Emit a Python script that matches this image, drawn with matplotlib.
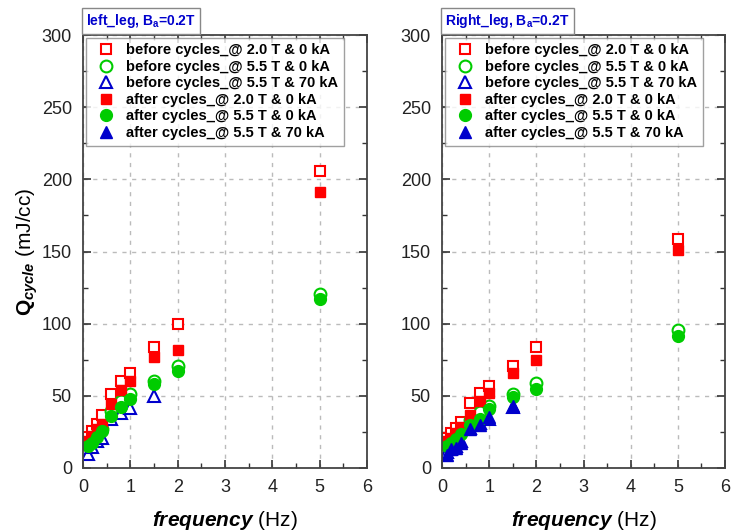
import matplotlib
matplotlib.use("Agg")
import matplotlib.pyplot as plt
from matplotlib.ticker import MultipleLocator

plt.rcParams['font.family'] = ['Liberation Sans', 'DejaVu Sans']
plt.rcParams['mathtext.fontset'] = 'custom'
plt.rcParams['mathtext.rm'] = 'Liberation Sans'
plt.rcParams['mathtext.it'] = 'Liberation Sans:italic'
plt.rcParams['mathtext.bf'] = 'Liberation Sans:bold'
try:
    plt.rcParams['mathtext.bfit'] = 'Liberation Sans:bold:italic'
except KeyError:
    pass

freq = [0.1, 0.2, 0.3, 0.4, 0.6, 0.8, 1.0, 1.5, 2.0, 5.0]
freq_70 = [0.1, 0.2, 0.3, 0.4, 0.6, 0.8, 1.0, 1.5]

labels = ["before cycles_@ 2.0 T & 0 kA", "before cycles_@ 5.5 T & 0 kA",
          "before cycles_@ 5.5 T & 70 kA", "after cycles_@ 2.0 T & 0 kA",
          "after cycles_@ 5.5 T & 0 kA", "after cycles_@ 5.5 T & 70 kA"]

# Left leg
left_b20 = [21.5, 25.7, 30.8, 36.6, 51.6, 60.0, 65.5, 83.5, 100.0, 206.0]
left_b55 = [16.6, 18.7, 23.5, 27.0, 39.6, 46.5, 51.0, 60.0, 71.0, 120.6]
left_b70 = [9.7, 14.8, 18.7, 21.0, 34.0, 38.0, 41.7, 50.0]
left_a20 = [19.0, 22.0, 27.0, 30.5, 44.4, 54.0, 60.0, 76.6, 82.0, 191.0]
left_a55 = [15.0, 17.5, 21.5, 25.5, 36.0, 42.0, 48.0, 58.0, 67.0, 117.0]
left_a70 = []

# Right leg
right_b20 = [21.0, 24.5, 28.0, 32.0, 44.7, 51.8, 57.0, 70.8, 83.6, 159.0]
right_b55 = [16.0, 18.0, 21.5, 25.0, 33.0, 39.0, 43.0, 51.0, 59.0, 95.6]
right_b70 = [11.0, 13.5, 15.5, 19.0, 28.0, 31.0, 34.0, 42.0]
right_a20 = [18.5, 21.0, 24.0, 28.5, 36.6, 46.5, 52.0, 65.5, 75.0, 150.7]
right_a55 = [15.0, 17.0, 20.0, 23.5, 30.0, 33.8, 40.7, 49.0, 55.0, 91.7]
right_a70 = [9.0, 13.0, 14.0, 17.6, 27.0, 30.0, 35.4, 43.0]

titles = ["left_leg, B$_\\mathregular{a}$=0.2T", "Right_leg, B$_\\mathregular{a}$=0.2T"]

RED = '#FF0000'
GREEN = '#00CC00'
BLUE = '#0000CC'

fig = plt.figure(figsize=(7.31, 5.32), dpi=100)
ax1 = fig.add_axes([83/731, 1-468/532, 284/731, 433/532])
ax2 = fig.add_axes([442/731, 1-468/532, 283/731, 433/532])

datasets = [
    (ax1, [left_b20, left_b55, left_b70, left_a20, left_a55, left_a70], titles[0]),
    (ax2, [right_b20, right_b55, right_b70, right_a20, right_a55, right_a70], titles[1]),
]

styles = [
    dict(marker='s', mfc='white', mec=RED, ms=7.5, mew=1.5),
    dict(marker='o', mfc='white', mec=GREEN, ms=8.5, mew=1.5),
    dict(marker='^', mfc='white', mec=BLUE, ms=8.5, mew=1.5),
    dict(marker='s', mfc=RED, mec=RED, ms=7.5, mew=1.0),
    dict(marker='o', mfc=GREEN, mec=GREEN, ms=8.5, mew=1.0),
    dict(marker='^', mfc=BLUE, mec=BLUE, ms=8.5, mew=1.0),
]

for ax, series, title in datasets:
    for i, (vals, st, lab) in enumerate(zip(series, styles, labels)):
        xs = freq_70 if i in (2, 5) else freq
        xs = xs[:len(vals)]
        ax.plot(xs, vals, linestyle='none', label=lab, **st)
    ax.set_xlim(0, 6)
    ax.set_ylim(0, 300)
    ax.xaxis.set_major_locator(MultipleLocator(1))
    ax.xaxis.set_minor_locator(MultipleLocator(0.5))
    ax.yaxis.set_major_locator(MultipleLocator(50))
    ax.yaxis.set_minor_locator(MultipleLocator(25))
    ax.tick_params(which='both', direction='in', top=True, right=True,
                   colors='#333333', labelcolor='#222222', labelsize=13)
    ax.tick_params(which='major', length=6, width=1.2)
    ax.tick_params(which='minor', length=3.5, width=1.0)
    ax.tick_params(axis='x', pad=8)
    ax.tick_params(axis='y', pad=8)
    for sp in ax.spines.values():
        sp.set_color('#444444')
        sp.set_linewidth(1.3)
    ax.grid(True, which='major', linestyle=(0, (3, 4)), color='#BBBBBB', linewidth=1.0)
    ax.set_axisbelow(True)
    leg = ax.legend(loc='upper left', frameon=True, fancybox=False,
                    prop=dict(weight='bold', size=10.5), handletextpad=0.4,
                    borderpad=0.4, labelspacing=0.17, handlelength=2.0,
                    borderaxespad=0.18, numpoints=1)
    leg.get_frame().set_edgecolor('#888888')
    leg.get_frame().set_linewidth(1.0)
    ax.text(0.01, 1.033, title, transform=ax.transAxes, color='#0000CC',
            fontsize=10, fontweight='bold', ha='left', va='center',
            bbox=dict(boxstyle='square,pad=0.3', fc='white', ec='#888888', lw=1.0))
    ax.set_xlabel(r'$\mathbfit{frequency}$ (Hz)', fontsize=15, labelpad=9)

ax1.set_ylabel(r'$\mathbf{Q}_{\mathbfit{cycle}}$ (mJ/cc)', fontsize=15, labelpad=1)

fig.savefig('out.png', dpi=100)
